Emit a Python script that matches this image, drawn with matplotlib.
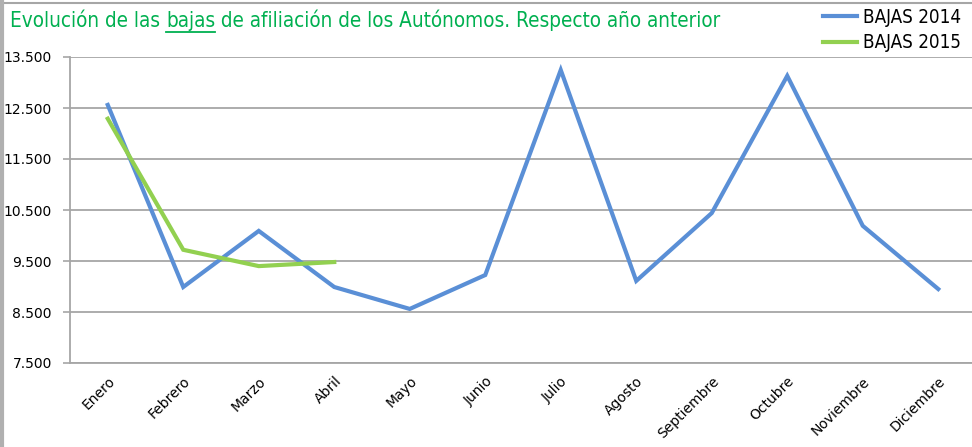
import matplotlib
matplotlib.use("Agg")
import matplotlib.pyplot as plt
from matplotlib.ticker import FuncFormatter
from matplotlib.lines import Line2D

# data
meses = ["Enero", "Febrero", "Marzo", "Abril", "Mayo", "Junio", "Julio",
         "Agosto", "Septiembre", "Octubre", "Noviembre", "Diciembre"]
bajas_2014 = [12560, 8990, 10090, 8990, 8560, 9225, 13245, 9110, 10440, 13130, 10190, 8950]
bajas_2015 = [12290, 9720, 9400, 9480]
y_ticks = [7500, 8500, 9500, 10500, 11500, 12500, 13500]

BLUE = "#5A8FD6"
GREEN = "#92D050"
GRID = "#A6A6A6"
TITLE_GREEN = "#00B050"
NARROW = ["DejaVu Sans"]

fig = plt.figure(figsize=(9.72, 4.47), dpi=100)
ax = fig.add_axes([70 / 972, 1 - 363 / 447, (976 - 70) / 972, (363 - 57) / 447])

x = list(range(len(meses)))
ax.plot(x, bajas_2014, color=BLUE, lw=3, solid_joinstyle="miter", zorder=3)
ax.plot(x[:len(bajas_2015)], bajas_2015, color=GREEN, lw=3, solid_joinstyle="miter", zorder=4)

ax.set_xlim(-0.5, 11.5)
ax.set_ylim(7500, 13500)
ax.set_yticks(y_ticks)
ax.yaxis.set_major_formatter(FuncFormatter(lambda v, p: f"{int(v):,}".replace(",", ".")))
ax.set_xticks(x)
ax.set_xticklabels(meses, rotation=45, ha="right", rotation_mode="anchor")
ax.tick_params(axis="x", length=0, pad=8, labelsize=10)
ax.tick_params(axis="y", length=5, color=GRID, width=1.2, pad=8, labelsize=10)
ax.grid(axis="y", color=GRID, lw=1.3)
ax.set_axisbelow(True)
for s in ["top", "right"]:
    ax.spines[s].set_visible(False)
for s in ["left", "bottom"]:
    ax.spines[s].set_color(GRID)
    ax.spines[s].set_linewidth(1.3)

# title with underlined "bajas", sized to span the same width as the original
parts = ["Evolución de las ", "bajas", " de afiliación de los Autónomos. Respecto año anterior"]
renderer = fig.canvas.get_renderer()
probe = fig.text(0, 0, "".join(parts), fontsize=16, family=NARROW, stretch="condensed")
w = probe.get_window_extent(renderer).width
probe.remove()
title_size = 16 * 717 / w

xpos = 10 / 972
ty = 1 - 27 / 447
for i, part in enumerate(parts):
    t = fig.text(xpos, ty, part, color=TITLE_GREEN, fontsize=title_size, family=NARROW,
                 stretch="condensed", va="baseline")
    bb = t.get_window_extent(renderer)
    if i == 1:
        fig.add_artist(Line2D([bb.x0 / 972, bb.x1 / 972], [ty - 5 / 447, ty - 5 / 447],
                              color=TITLE_GREEN, lw=1.3, transform=fig.transFigure))
    xpos = bb.x1 / 972

handles = [Line2D([], [], color=BLUE, lw=3), Line2D([], [], color=GREEN, lw=3)]
fig.legend(handles, ["BAJAS 2014", "BAJAS 2015"], loc="upper right", bbox_to_anchor=(1.006, 1.02),
           frameon=False, handlelength=1.8, handletextpad=0.3, labelspacing=0.35,
           prop={"family": NARROW, "size": 13.5, "stretch": "condensed"})

# frame lines of the original screenshot
fig.add_artist(Line2D([0, 1], [1 - 2.5 / 447] * 2, color=GRID, lw=1.5, transform=fig.transFigure))
fig.add_artist(Line2D([1.5 / 972] * 2, [0, 1], color="#B0B0B0", lw=3, transform=fig.transFigure))

fig.savefig("out.png", dpi=100)
